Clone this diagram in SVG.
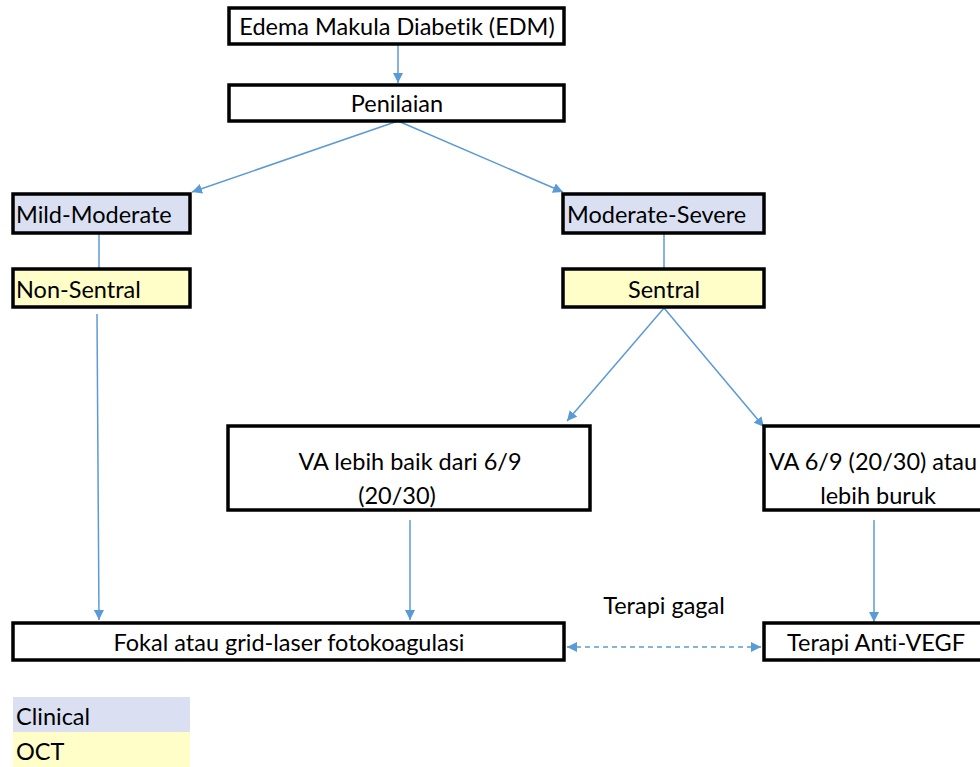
<svg xmlns="http://www.w3.org/2000/svg" width="980" height="767" viewBox="0 0 980 767">
<style>
.box{fill:#fff;stroke:#000;stroke-width:3.5}
.cl{fill:#dae0f2}
.oc{fill:#fffdc8}
.t{font-family:Lato,"Open Sans","Liberation Sans",sans-serif;font-size:23.5px;fill:#000;font-variant-ligatures:none;font-feature-settings:"liga" 0}
.c{stroke:#5b9bd5;stroke-width:1.5;fill:none}
.m{text-anchor:middle}
</style>
<defs>
<marker id="ah" viewBox="0 0 10 10" refX="10" refY="5" markerWidth="10" markerHeight="10" markerUnits="userSpaceOnUse" orient="auto-start-reverse">
<path d="M0,0 L10,5 L0,10 z" fill="#5b9bd5"/>
</marker>
</defs>
<rect width="980" height="767" fill="#fff"/>
<g id="connectors">
<line class="c" x1="398" y1="45" x2="398" y2="83" marker-end="url(#ah)"/>
<line class="c" x1="398" y1="121" x2="192" y2="192" marker-end="url(#ah)"/>
<line class="c" x1="398" y1="121" x2="563" y2="192" marker-end="url(#ah)"/>
<line class="c" x1="99" y1="233" x2="99" y2="268"/>
<line class="c" x1="664" y1="233" x2="664" y2="268"/>
<line class="c" x1="664" y1="308" x2="567" y2="421" marker-end="url(#ah)"/>
<line class="c" x1="664" y1="308" x2="764" y2="427" marker-end="url(#ah)"/>
<line class="c" x1="97" y1="314" x2="99" y2="620" marker-end="url(#ah)"/>
<line class="c" x1="410" y1="520" x2="410" y2="620" marker-end="url(#ah)"/>
<line class="c" x1="874" y1="520" x2="874" y2="622" marker-end="url(#ah)"/>
<line class="c" x1="567" y1="647" x2="761" y2="647" stroke-dasharray="5,4" marker-start="url(#ah)" marker-end="url(#ah)"/>
<text class="t m" x="664" y="614">Terapi gagal</text>
</g>
<g id="edm">
<rect class="box" x="229" y="8" width="335" height="36"/>
<text class="t m" x="397" y="35">Edema Makula Diabetik (EDM)</text>
</g>
<g id="penilaian">
<rect class="box" x="229" y="85" width="335" height="36"/>
<text class="t m" x="397" y="112">Penilaian</text>
</g>
<g id="mild">
<rect class="box cl" x="13" y="194" width="177" height="39"/>
<text class="t" x="16" y="223">Mild-Moderate</text>
</g>
<g id="nonsentral">
<rect class="box oc" x="13" y="269" width="177" height="38"/>
<text class="t" x="16" y="298">Non-Sentral</text>
</g>
<g id="modsev">
<rect class="box cl" x="563" y="194" width="201" height="39"/>
<text class="t" x="567" y="223">Moderate-Severe</text>
</g>
<g id="sentral">
<rect class="box oc" x="563" y="269" width="201" height="38"/>
<text class="t m" x="664" y="298">Sentral</text>
</g>
<g id="vabaik">
<rect class="box" x="228" y="426" width="362" height="84"/>
<text class="t m" x="410" y="470">VA lebih baik dari 6/9</text>
<text class="t m" x="397" y="504">(20/30)</text>
</g>
<g id="vaburuk">
<rect class="box" x="764" y="426" width="225" height="84"/>
<text class="t m" x="873" y="470">VA 6/9 (20/30) atau</text>
<text class="t m" x="878" y="504">lebih buruk</text>
</g>
<g id="fokal">
<rect class="box" x="13" y="623" width="551" height="37"/>
<text class="t m" x="289" y="651">Fokal atau grid-laser fotokoagulasi</text>
</g>
<g id="antivegf">
<rect class="box" x="764" y="623" width="225" height="37"/>
<text class="t m" x="876" y="651">Terapi Anti-VEGF</text>
</g>
<g id="legend">
<rect class="cl" x="13" y="697" width="177" height="35"/>
<text class="t" x="16" y="725">Clinical</text>
<rect class="oc" x="13" y="732" width="177" height="35"/>
<text class="t" x="16" y="760">OCT</text>
</g>
</svg>
